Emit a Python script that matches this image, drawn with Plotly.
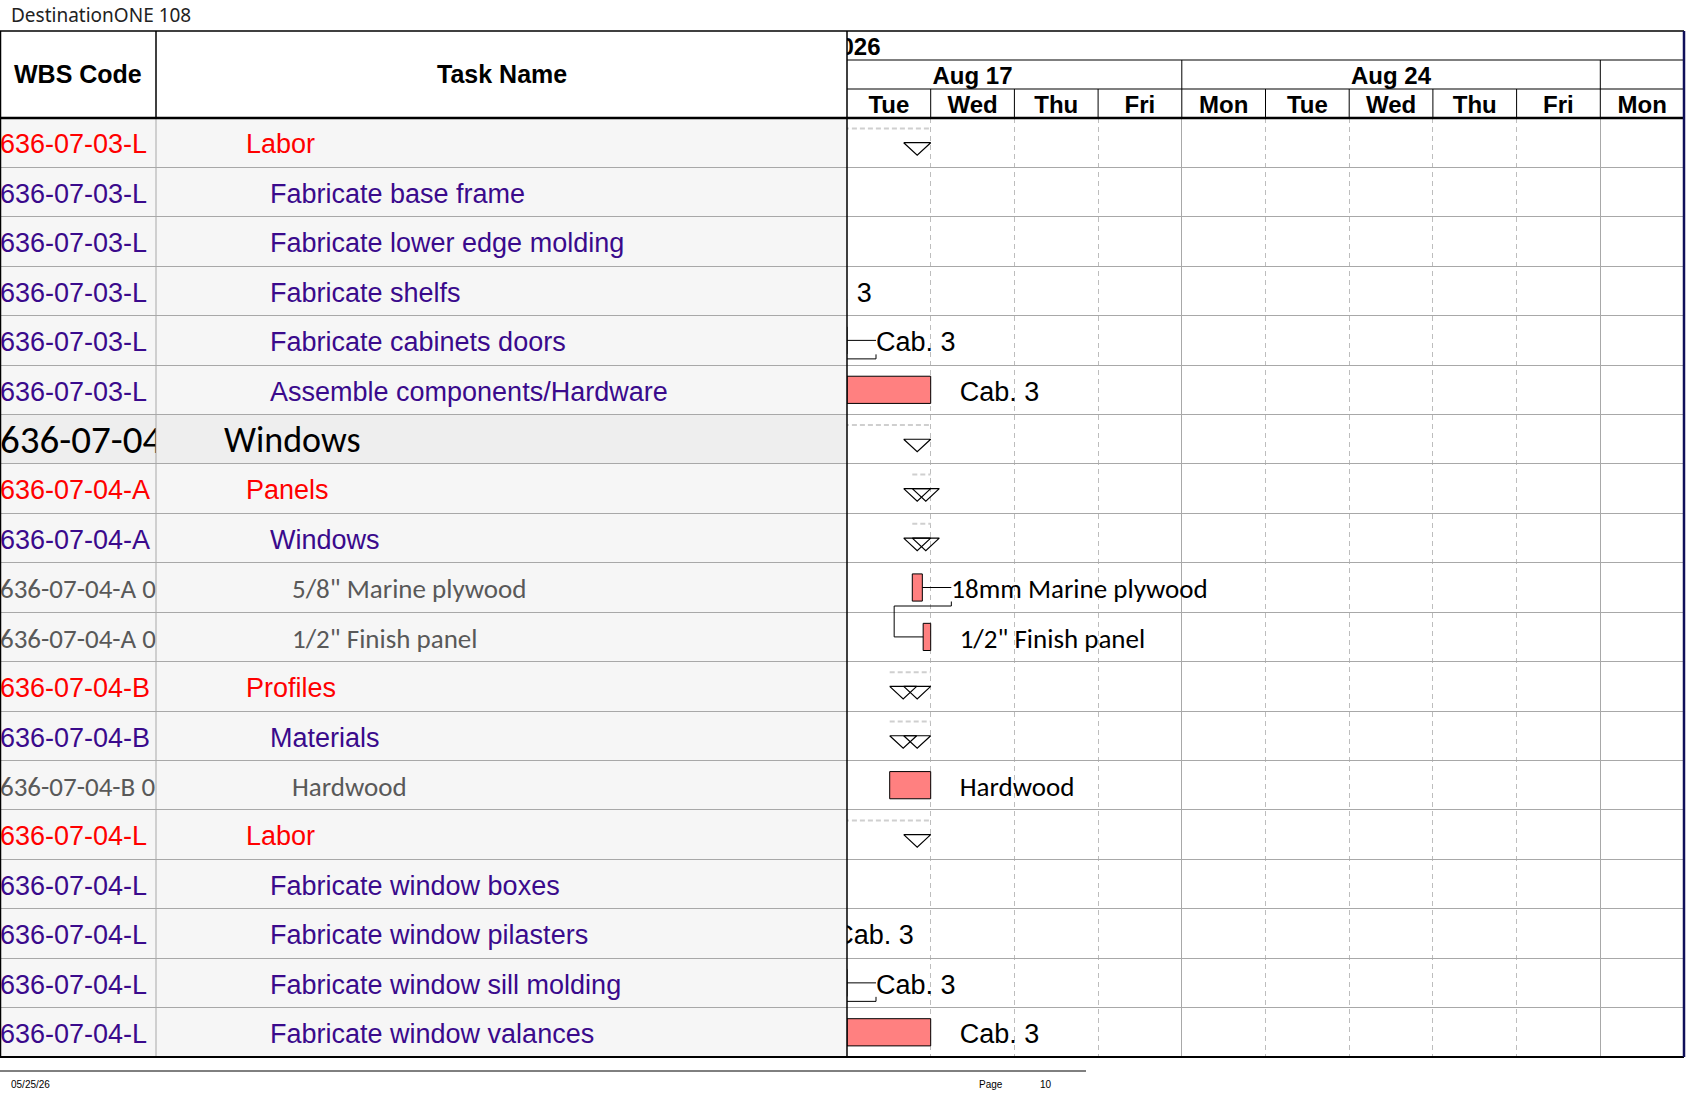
import plotly.graph_objects as go

W, H = 1687, 1097

# ---- table rows ----
wbs_codes = [
    "636-07-03-L", "636-07-03-L", "636-07-03-L", "636-07-03-L", "636-07-03-L", "636-07-03-L",
    "636-07-04", "636-07-04-A", "636-07-04-A", "636-07-04-A 01", "636-07-04-A 02",
    "636-07-04-B", "636-07-04-B", "636-07-04-B 01",
    "636-07-04-L", "636-07-04-L", "636-07-04-L", "636-07-04-L", "636-07-04-L",
]
task_names = [
    "Labor", "Fabricate base frame", "Fabricate lower edge molding", "Fabricate shelfs",
    "Fabricate cabinets doors", "Assemble components/Hardware",
    "Windows", "Panels", "Windows", '5/8" Marine plywood', '1/2" Finish panel',
    "Profiles", "Materials", "Hardwood",
    "Labor", "Fabricate window boxes", "Fabricate window pilasters",
    "Fabricate window sill molding", "Fabricate window valances",
]
outline_level = [1, 2, 2, 2, 2, 2, 0, 1, 2, 3, 3, 1, 2, 3, 1, 2, 2, 2, 2]

# ---- timescale (x = working days after Tue Aug 18 2026, weekends skipped) ----
day_names = ["Tue", "Wed", "Thu", "Fri", "Mon", "Tue", "Wed", "Thu", "Fri", "Mon"]
week_names = ["Aug 17", "Aug 24", "Aug 31"]
week_start = [-1, 4, 9]
year_name = "2026"
year_label_end = 0.4

# ---- task bars ----
bar_rows = [3, 4, 5, 9, 10, 13, 16, 17, 18]
bar_start = [-2.0, -1.0, 0.0, 0.78, 0.91, 0.51, -1.5, -0.5, 0.0]
bar_finish = [-1.0, 0.0, 1.0, 0.9, 1.0, 1.0, -0.5, 0.0, 1.0]
bar_labels = ["Cab. 3", "Cab. 3", "Cab. 3", "18mm Marine plywood", '1/2" Finish panel',
              "Hardwood", "Cab. 3", "Cab. 3", "Cab. 3"]

# ---- summary rows ----
summary_rows = [0, 6, 7, 8, 11, 12, 14]
summary_start = [-3.0, -3.0, 0.78, 0.78, 0.51, 0.51, -3.0]
summary_finish = [1.0, 1.0, 1.0, 1.0, 1.0, 1.0, 1.0]

# finish-to-start links (predecessor row, successor row)
links = [(4, 5), (9, 10), (17, 18)]

# ---- layout constants (pixels) ----
TOP, HEAD_BOTTOM, BOTTOM = 31, 118, 1057
COL_WBS, COL_GANTT, RIGHT = 156, 847, 1684
DAY_PX = (RIGHT - COL_GANTT) / len(day_names)
ROW_PX = (BOTTOM - HEAD_BOTTOM) / len(task_names)

ARIAL = "Arial, Liberation Sans, sans-serif"
CALIBRI = "Carlito, Lato, sans-serif"
LEVEL_COLOR = ["#000000", "#ff0000", "#3a0a8c", "#595959"]
LEVEL_FONT = [CALIBRI, ARIAL, ARIAL, CALIBRI]
LEVEL_SIZE = [36, 27, 27, 27]
WBS_SIZE = [39, 27, 27, 27]
LEVEL_INDENT = [224, 246, 270, 292]
TABLE_FILL = "#f6f6f6"
GROUP_FILL = "#eeeeee"
GRID = "#a8a8a8"
BAR_COLOR = "#ff8080"

LABEL_GAP = 29 / DAY_PX
LINK_GAP = 29 / DAY_PX
LINK_DROP = 18.5 / ROW_PX
LINK_HIDE = 14 / ROW_PX      # part of the link riser hidden behind the label
TRI_W = 27 / DAY_PX
TRI_H = 12.5 / ROW_PX
SUM_LINE = 0.5 - 10.5 / ROW_PX
TEXT_DY = 4 / ROW_PX
HEAD_DY = 3 / 29

rows = list(range(len(task_names)))
text_y = [r + TEXT_DY for r in rows]


def px(v):
    return v / W


def py(v):
    return 1 - v / H


fig = go.Figure()

# WBS column text
fig.add_trace(go.Scatter(
    x=[0] * len(rows), y=text_y, text=wbs_codes, mode="text",
    textposition="middle right",
    textfont=dict(
        family=[LEVEL_FONT[lv] for lv in outline_level],
        size=[WBS_SIZE[lv] for lv in outline_level],
        color=[LEVEL_COLOR[lv] for lv in outline_level],
    ),
    xaxis="x", yaxis="y", hoverinfo="skip", cliponaxis=True,
))

# Task name column text
fig.add_trace(go.Scatter(
    x=[LEVEL_INDENT[lv] for lv in outline_level], y=text_y, text=task_names, mode="text",
    textposition="middle right",
    textfont=dict(
        family=[LEVEL_FONT[lv] for lv in outline_level],
        size=[LEVEL_SIZE[lv] for lv in outline_level],
        color=[LEVEL_COLOR[lv] for lv in outline_level],
    ),
    xaxis="x3", yaxis="y", hoverinfo="skip", cliponaxis=True,
))

# link lines
bar_of = {r: (s, f) for r, s, f in zip(bar_rows, bar_start, bar_finish)}
lx, ly = [], []
for p, s in links:
    pe = bar_of[p][1]
    ss = bar_of[s][0]
    lx += [pe, pe + LINK_GAP, None]
    ly += [p, p, None]
    lx += [pe + LINK_GAP, pe + LINK_GAP, ss - LINK_GAP, ss - LINK_GAP, ss, None]
    ly += [p + LINK_HIDE, p + LINK_DROP, p + LINK_DROP, s, s, None]
fig.add_trace(go.Scatter(
    x=lx, y=ly, mode="lines", line=dict(color="black", width=1),
    xaxis="x2", yaxis="y", hoverinfo="skip",
))

# summary bars: dashed line and start/finish markers
sx, sy, tx, ty = [], [], [], []
for r, s, f in zip(summary_rows, summary_start, summary_finish):
    sx += [s, f, None]
    sy += [r - SUM_LINE, r - SUM_LINE, None]
    tx += [s, s + TRI_W, s + TRI_W / 2, s, None]
    ty += [r, r, r + TRI_H, r, None]
    tx += [f - TRI_W, f, f - TRI_W / 2, f - TRI_W, None]
    ty += [r, r, r + TRI_H, r, None]
fig.add_trace(go.Scatter(
    x=sx, y=sy, mode="lines", line=dict(color="#cfcfcf", width=2, dash="5px,3px"),
    xaxis="x2", yaxis="y", hoverinfo="skip",
))
fig.add_trace(go.Scatter(
    x=tx, y=ty, mode="lines", line=dict(color="black", width=1.2),
    xaxis="x2", yaxis="y", hoverinfo="skip",
))

# task bars
fig.add_trace(go.Bar(
    y=bar_rows, x=[f - s for s, f in zip(bar_start, bar_finish)], base=bar_start,
    orientation="h", width=0.55,
    marker=dict(color=BAR_COLOR, line=dict(color="black", width=1)),
    xaxis="x2", yaxis="y", hoverinfo="skip",
))

# bar labels
fig.add_trace(go.Scatter(
    x=[f + LABEL_GAP for f in bar_finish], y=[r + TEXT_DY for r in bar_rows],
    text=bar_labels, mode="text", textposition="middle right",
    textfont=dict(
        family=[ARIAL if outline_level[r] < 3 else CALIBRI for r in bar_rows],
        size=27, color="black",
    ),
    xaxis="x2", yaxis="y", hoverinfo="skip", cliponaxis=True,
))

# timescale header text
hdr_font = dict(family=ARIAL, size=24, color="black", weight="bold")
fig.add_trace(go.Scatter(
    x=[i + 0.5 for i in range(len(day_names))], y=[2.5 + HEAD_DY] * len(day_names),
    text=day_names, mode="text", textposition="middle center", textfont=hdr_font,
    xaxis="x4", yaxis="y2", hoverinfo="skip", cliponaxis=True,
))
week_mid = [w + 2.5 for w in week_start]
shown = [i for i, m in enumerate(week_mid) if 0 < m < len(day_names)]
fig.add_trace(go.Scatter(
    x=[week_mid[i] for i in shown], y=[1.5 + HEAD_DY] * len(shown),
    text=[week_names[i] for i in shown], mode="text", textposition="middle center",
    textfont=hdr_font, xaxis="x4", yaxis="y2", hoverinfo="skip", cliponaxis=True,
))
fig.add_trace(go.Scatter(
    x=[year_label_end], y=[0.5 + HEAD_DY], text=[year_name], mode="text",
    textposition="middle left", textfont=hdr_font,
    xaxis="x4", yaxis="y2", hoverinfo="skip", cliponaxis=True,
))

shapes = []
# table row backgrounds
for r, lv in zip(rows, outline_level):
    shapes.append(dict(
        type="rect", xref="paper", yref="y", x0=0, x1=px(COL_GANTT), y0=r - 0.5, y1=r + 0.5,
        fillcolor=GROUP_FILL if lv == 0 else TABLE_FILL, line=dict(width=0), layer="below",
    ))

# header lines in the timescale
for yv in (1, 2):
    shapes.append(dict(type="line", xref="x4", yref="y2", x0=0, x1=len(day_names),
                       y0=yv, y1=yv, line=dict(color="black", width=1.2)))
for i in range(1, len(day_names)):
    shapes.append(dict(type="line", xref="x4", yref="y2", x0=i, x1=i, y0=2, y1=3,
                       line=dict(color="black", width=1)))
for w in week_start:
    if 0 < w < len(day_names):
        shapes.append(dict(type="line", xref="x4", yref="y2", x0=w, x1=w, y0=1, y1=2,
                           line=dict(color="black", width=1)))


# borders
def pline(x0, y0, x1, y1, color="black", width=1.5):
    shapes.append(dict(type="line", xref="paper", yref="paper",
                       x0=px(x0), y0=py(y0), x1=px(x1), y1=py(y1),
                       line=dict(color=color, width=width)))


pline(0, TOP, RIGHT, TOP)
pline(0.5, TOP, 0.5, BOTTOM)
pline(COL_WBS, TOP, COL_WBS, HEAD_BOTTOM)
pline(COL_WBS, HEAD_BOTTOM, COL_WBS, BOTTOM, color=GRID, width=1)
pline(COL_GANTT, TOP, COL_GANTT, BOTTOM)
pline(0, HEAD_BOTTOM, RIGHT, HEAD_BOTTOM, width=2.5)
pline(0, BOTTOM, RIGHT, BOTTOM, width=2)
pline(RIGHT, TOP, RIGHT, BOTTOM, color="#10105a", width=2.5)
pline(0, 1071, 1086, 1071, width=1)

annotations = [
    dict(text="DestinationONE 108", x=px(9), y=py(15), xanchor="left", yanchor="middle",
         font=dict(family="Noto Sans", size=19, color="#222222")),
    dict(text="WBS Code", x=px(COL_WBS / 2), y=py(74), xanchor="center", yanchor="middle",
         font=dict(family=ARIAL, size=25, color="black", weight="bold")),
    dict(text="Task Name", x=px((COL_WBS + COL_GANTT) / 2), y=py(74), xanchor="center",
         yanchor="middle", font=dict(family=ARIAL, size=25, color="black", weight="bold")),
    dict(text="05/25/26", x=px(9), y=py(1084), xanchor="left", yanchor="middle",
         font=dict(family=ARIAL, size=10, color="black")),
    dict(text="Page", x=px(991), y=py(1084), xanchor="center", yanchor="middle",
         font=dict(family=ARIAL, size=10, color="black")),
    dict(text="10", x=px(1046), y=py(1084), xanchor="center", yanchor="middle",
         font=dict(family=ARIAL, size=10, color="black")),
]
for a in annotations:
    a.update(xref="paper", yref="paper", showarrow=False)

hidden = dict(showgrid=False, zeroline=False, showticklabels=False, ticks="", fixedrange=True)

fig.update_layout(
    width=W, height=H, autosize=False,
    margin=dict(l=0, r=0, t=0, b=0),
    paper_bgcolor="white", plot_bgcolor="rgba(0,0,0,0)",
    showlegend=False, barmode="overlay",
    xaxis=dict(domain=[0, px(COL_WBS)], range=[0, COL_WBS], anchor="y", **hidden),
    xaxis3=dict(domain=[px(COL_WBS), px(COL_GANTT)], range=[COL_WBS, COL_GANTT],
                anchor="y", **hidden),
    xaxis2=dict(
        domain=[px(COL_GANTT), px(RIGHT)], range=[0, len(day_names)], anchor="y",
        zeroline=False, showticklabels=False, ticks="",
        tickmode="array", tickvals=[w for w in week_start if 0 < w < len(day_names)],
        showgrid=True, gridcolor=GRID, gridwidth=1,
        minor=dict(tickmode="array",
                   tickvals=[i for i in range(1, len(day_names)) if i not in week_start],
                   showgrid=True, gridcolor="#bdbdbd", gridwidth=1, griddash="5px,4px",
                   ticks=""),
    ),
    xaxis4=dict(domain=[px(COL_GANTT), px(RIGHT)], range=[0, len(day_names)],
                anchor="y2", **hidden),
    yaxis=dict(
        domain=[py(BOTTOM), py(HEAD_BOTTOM)], range=[len(rows) - 0.5, -0.5], anchor="x",
        tickmode="array", tickvals=[r - 0.5 for r in range(1, len(rows))],
        showgrid=True, gridcolor=GRID, gridwidth=1.3,
        zeroline=False, showticklabels=False, ticks="",
    ),
    yaxis2=dict(domain=[py(HEAD_BOTTOM), py(TOP)], range=[3, 0], anchor="x4", **hidden),
    shapes=shapes,
    annotations=annotations,
)

# the page body margin would push the chart off its place
fig.write_html("out.html", config={"displayModeBar": False},
               post_script="document.body.style.margin='0px';document.body.style.overflow='hidden';")
